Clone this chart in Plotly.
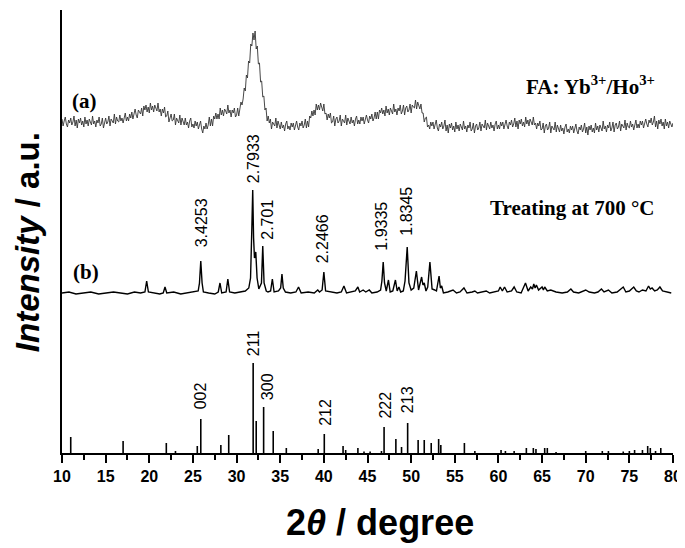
import plotly.graph_objects as go

# ---------------------------------------------------------------------------
# data (intensity in arbitrary units, 0 = x axis)
# ---------------------------------------------------------------------------

# (a) FA: Yb/Ho, 2theta from 10 to 80 in 0.125 deg steps (8 values per degree)
A_START, A_STEP = 10.0, 0.125
A_INT = [
    334, 327, 332, 336, 329, 326, 333, 330,  # 10
    335, 328, 331, 337, 327, 333, 325, 334,
    330, 335, 328, 332, 326, 336, 329, 333,
    327, 334, 331, 328, 337, 329, 332, 326,
    333, 330, 336, 327, 329, 335, 325, 332,
    335, 329, 331, 337, 327, 334, 332, 330,  # 15
    339, 329, 336, 332, 331, 338, 332, 335,
    330, 337, 340, 332, 336, 332, 339, 335,
    341, 334, 340, 344, 338, 335, 343, 340,
    339, 345, 337, 347, 343, 348, 341, 346,
    340, 350, 343, 347, 341, 348, 345, 342,  # 20
    350, 341, 344, 337, 344, 340, 346, 336,
    337, 342, 331, 337, 339, 332, 333, 339,
    328, 335, 333, 330, 338, 328, 335, 330,
    328, 335, 328, 331, 325, 332, 335, 326,
    329, 325, 332, 327, 331, 324, 329, 332,  # 25
    324, 320, 327, 324, 330, 324, 328, 336,
    327, 334, 327, 337, 334, 340, 334, 339,
    334, 345, 338, 343, 337, 344, 342, 339,
    348, 340, 343, 336, 343, 340, 345, 336,
    338, 345, 337, 346, 351, 348, 354, 365,  # 30
    362, 378, 375, 392, 390, 409, 407, 420,
    413, 422, 404, 407, 389, 390, 371, 372,
    356, 357, 343, 345, 332, 337, 330, 334,
    324, 331, 329, 327, 335, 325, 332, 328,
    324, 331, 325, 328, 322, 329, 332, 324,  # 35
    327, 323, 330, 326, 330, 323, 328, 332,
    326, 323, 330, 327, 332, 325, 328, 334,
    325, 332, 326, 337, 335, 342, 337, 343,
    338, 349, 343, 348, 343, 350, 346, 342,
    349, 339, 340, 333, 339, 335, 340, 330,  # 40
    331, 337, 327, 334, 336, 330, 332, 338,
    327, 334, 332, 330, 338, 328, 335, 331,
    329, 336, 330, 333, 327, 334, 337, 329,
    333, 329, 336, 332, 336, 329, 334, 338,
    333, 330, 337, 334, 339, 332, 335, 341,  # 45
    334, 341, 334, 343, 340, 345, 339, 343,
    337, 347, 340, 344, 338, 345, 342, 339,
    349, 341, 344, 338, 345, 342, 348, 339,
    342, 348, 338, 345, 347, 341, 343, 349,
    340, 348, 346, 345, 353, 344, 351, 347,  # 50
    344, 349, 340, 340, 331, 335, 336, 326,
    328, 324, 331, 327, 331, 324, 329, 333,
    325, 322, 329, 326, 331, 324, 327, 333,
    322, 328, 320, 329, 325, 330, 323, 327,
    321, 331, 324, 328, 322, 329, 326, 323,  # 55
    332, 324, 327, 321, 328, 325, 331, 322,
    324, 330, 320, 327, 329, 323, 325, 331,
    322, 329, 327, 325, 333, 323, 330, 326,
    324, 331, 325, 328, 322, 329, 332, 324,
    328, 324, 331, 327, 331, 324, 329, 333,  # 60
    327, 324, 331, 328, 333, 326, 329, 335,
    326, 332, 324, 333, 329, 334, 327, 331,
    326, 336, 329, 333, 327, 334, 331, 328,
    336, 328, 330, 324, 330, 327, 332, 323,
    324, 330, 320, 327, 329, 323, 325, 331,  # 65
    320, 327, 325, 323, 331, 321, 328, 324,
    321, 328, 322, 325, 319, 326, 329, 321,
    324, 320, 327, 323, 327, 320, 325, 329,
    322, 319, 326, 323, 328, 321, 324, 330,
    320, 326, 318, 327, 323, 328, 321, 325,  # 70
    320, 330, 323, 327, 321, 328, 325, 322,
    332, 324, 327, 321, 328, 325, 331, 322,
    325, 331, 321, 328, 330, 324, 326, 332,
    322, 329, 327, 325, 333, 323, 330, 326,
    325, 332, 326, 329, 323, 330, 333, 325,  # 75
    329, 325, 332, 328, 332, 325, 330, 334,
    329, 326, 333, 330, 335, 328, 331, 337,
    326, 332, 324, 333, 329, 334, 327, 331,
    324, 334, 327, 331, 325, 332, 329, 326,
    330,
]
A_TTH = [A_START + A_STEP * i for i in range(len(A_INT))]

# (b) treated at 700 C
B_TTH = [
    10.0, 10.8, 11.6, 12.5, 13.3, 14.2, 15.0, 15.9, 16.7, 17.5, 18.3, 19.0,
    19.5, 19.7, 19.9, 20.5, 21.2, 21.6, 21.8, 22.0, 22.8, 23.6, 24.4, 25.0,
    25.6, 25.75, 25.9, 26.05, 26.2, 26.8, 27.5, 27.9, 28.1, 28.3, 28.8, 29.0,
    29.2, 29.8, 30.5, 31.0, 31.4, 31.6, 31.75, 31.85, 31.95, 32.05, 32.2, 32.35,
    32.55, 32.85, 33.0, 33.15, 33.4, 33.6, 33.9, 34.1, 34.3, 34.8, 35.05, 35.2,
    35.35, 35.6, 36.2, 36.8, 37.1, 37.4, 38.2, 38.9, 39.3, 39.5, 39.8, 40.0,
    40.2, 40.8, 41.5, 42.0, 42.3, 42.6, 43.2, 43.6, 43.9, 44.1, 44.5, 44.8,
    45.2, 45.5, 46.1, 46.5, 46.65, 46.8, 46.95, 47.15, 47.4, 47.6, 47.9, 48.2,
    48.4, 48.6, 48.8, 49.1, 49.3, 49.55, 49.75, 50.0, 50.3, 50.6, 50.85, 51.2,
    51.35, 51.5, 51.7, 51.9, 52.15, 52.4, 52.7, 52.9, 53.2, 53.35, 53.5, 53.7,
    54.2, 54.8, 55.2, 55.6, 56.05, 56.4, 57.0, 57.3, 57.6, 58.2, 58.6, 59.0,
    59.6, 60.0, 60.2, 60.45, 60.7, 61.0, 61.5, 61.8, 62.1, 62.6, 63.1, 63.4,
    63.7, 63.9, 64.05, 64.2, 64.35, 64.6, 65.0, 65.15, 65.3, 65.6, 66.0, 66.6,
    67.3, 67.9, 68.3, 68.6, 69.2, 70.0, 70.4, 71.0, 71.4, 71.8, 72.1, 72.6,
    73.0, 73.6, 74.3, 74.6, 75.0, 75.5, 75.8, 76.1, 76.5, 76.9, 77.2, 77.4,
    77.6, 77.9, 78.2, 78.5, 78.8, 79.3, 79.8,
]
B_INT = [
    160, 161, 159, 160, 161, 159, 160, 161, 160, 159, 161, 160,
    161, 172, 161, 160, 159, 160, 166, 160, 161, 159, 160, 161,
    162, 170, 192, 170, 161, 160, 159, 161, 170, 160, 161, 174,
    161, 160, 161, 162, 165, 175, 225, 263, 215, 195, 201, 175,
    164, 170, 207, 170, 162, 161, 162, 174, 161, 162, 165, 179,
    165, 161, 160, 161, 166, 160, 161, 160, 163, 161, 163, 181,
    162, 161, 160, 161, 167, 160, 161, 162, 166, 161, 163, 161,
    163, 160, 161, 163, 172, 191, 170, 162, 173, 161, 162, 173,
    162, 166, 161, 162, 172, 206, 170, 163, 165, 182, 163, 176,
    168, 170, 162, 166, 191, 164, 163, 162, 177, 165, 167, 160,
    161, 163, 160, 161, 165, 160, 161, 162, 160, 161, 162, 160,
    161, 162, 166, 162, 166, 161, 162, 166, 161, 160, 170, 162,
    166, 164, 169, 165, 168, 163, 166, 163, 166, 162, 163, 161,
    160, 161, 164, 161, 160, 163, 161, 160, 161, 164, 161, 163,
    160, 161, 166, 161, 162, 166, 162, 161, 163, 162, 167, 164,
    165, 162, 163, 166, 162, 161, 160,
]

# reference pattern sticks
STICK_TTH = [
    11.0, 17.0, 21.95, 23.0, 25.5, 25.9, 28.2, 29.1, 31.9, 32.25, 33.1, 34.2,
    35.7, 39.35, 40.05, 42.2, 42.5, 43.9, 44.6, 45.3, 46.6, 46.9, 48.25, 48.9,
    49.6, 50.8, 51.5, 52.3, 53.15, 53.4, 56.1, 57.3, 60.3, 60.8, 61.8, 63.2,
    64.0, 64.3, 65.3, 65.6, 66.6, 70.0, 71.9, 72.6, 74.3, 75.0, 75.6, 76.5,
    77.1, 77.4, 78.0, 78.6,
]
STICK_H = [
    16, 12, 10, 2, 7, 34, 8, 18, 90, 32, 46, 22,
    5, 4, 19, 7, 3, 5, 1.5, 1.5, 2, 26, 14, 6,
    30, 13, 13, 10, 14, 8, 10, 2, 3, 2, 2, 5,
    5, 4, 5, 5, 1, 2, 2, 2, 1.5, 2, 3, 3,
    7, 5, 2, 5,
]

# labels: (2theta of peak, text, x shift px, gap px)
B_LABELS = [
    (25.9, "3.4253", 1, 12),
    (31.85, "2.7933", 1, 5),
    (33.0, "2.701", 4, 4),
    (40.0, "2.2466", -1, 7),
    (46.8, "1.9335", -2, 9),
    (49.55, "1.8345", -1, 9),
]
STICK_LABELS = [
    (25.9, "002", 0, 8),
    (31.9, "211", 0, 5),
    (33.1, "300", 4, 5),
    (40.05, "212", 1, 6),
    (46.9, "222", 1, 6),
    (49.6, "213", 0, 8),
]

SANS = "Liberation Sans, Arial, sans-serif"
SERIF = "Liberation Serif, Times New Roman, serif"

fig = go.Figure()

fig.add_trace(go.Scatter(
    x=A_TTH, y=A_INT, mode="lines",
    line=dict(color="#333333", width=0.9),
))
fig.add_trace(go.Scatter(
    x=B_TTH, y=B_INT, mode="lines",
    line=dict(color="black", width=1.4),
))

sx, sy = [], []
for t, h in zip(STICK_TTH, STICK_H):
    sx += [t, t, None]
    sy += [0, h, None]
fig.add_trace(go.Scatter(
    x=sx, y=sy, mode="lines",
    line=dict(color="black", width=1.6),
))

b_lookup = dict(zip(B_TTH, B_INT))
for t, txt, dx, gap in B_LABELS:
    fig.add_annotation(
        x=t, y=b_lookup[t], text=txt, textangle=-90,
        showarrow=False, xanchor="center", yanchor="bottom",
        xshift=dx, yshift=gap,
        font=dict(family=SANS, size=16, color="black"),
    )

s_lookup = dict(zip(STICK_TTH, STICK_H))
for t, txt, dx, gap in STICK_LABELS:
    fig.add_annotation(
        x=t, y=s_lookup[t], text=txt, textangle=-90,
        showarrow=False, xanchor="center", yanchor="bottom",
        xshift=dx, yshift=gap,
        font=dict(family=SANS, size=16, color="black"),
    )

# panel captions
fig.add_annotation(x=12.6, y=352, text="<b>(a)</b>", showarrow=False,
                   font=dict(family=SERIF, size=21, color="black"))
fig.add_annotation(x=12.75, y=181, text="<b>(b)</b>", showarrow=False,
                   font=dict(family=SERIF, size=21, color="black"))
fig.add_annotation(x=78.2, y=368, xanchor="right",
                   text="<b>FA: Yb<sup>3+</sup>/Ho<sup>3+</sup></b>", showarrow=False,
                   font=dict(family=SERIF, size=21, color="black"))
fig.add_annotation(x=68.5, y=245, text="<b>Treating at 700 °C</b>", showarrow=False,
                   font=dict(family=SERIF, size=21, color="black"))

# axis titles
fig.add_annotation(xref="paper", yref="paper", x=0.52, y=0, yshift=-69,
                   yanchor="middle", text="<b>2<i>θ</i> / degree</b>", showarrow=False,
                   font=dict(family=SANS, size=36, color="black"))
fig.add_annotation(xref="paper", yref="paper", x=0, xshift=-35, y=0.476,
                   xanchor="center", yanchor="middle", textangle=-90,
                   text="<b><i>Intensity</i> / a.u.</b>", showarrow=False,
                   font=dict(family=SANS, size=33, color="black"))

fig.update_xaxes(
    range=[10, 80], tick0=10, dtick=5,
    showline=True, linecolor="black", linewidth=2,
    ticks="outside", ticklen=8, tickwidth=2, tickcolor="black",
    minor=dict(ticks="outside", ticklen=5, tickwidth=1.5, tickcolor="black",
               tick0=12.5, dtick=5),
    showgrid=False, zeroline=False,
    tickfont=dict(family=SANS, size=16, color="black", weight="bold"),
)
fig.update_yaxes(
    range=[0, 443], showline=True, linecolor="black", linewidth=2,
    showticklabels=False, ticks="", showgrid=False, zeroline=False,
)

# the page body keeps its default 8 px margin, so the figure is 8 px smaller
fig.update_layout(
    width=677, height=540,
    margin=dict(l=54, r=12, t=2, b=95),
    paper_bgcolor="white", plot_bgcolor="white",
    showlegend=False,
)

fig.write_html("out.html")
